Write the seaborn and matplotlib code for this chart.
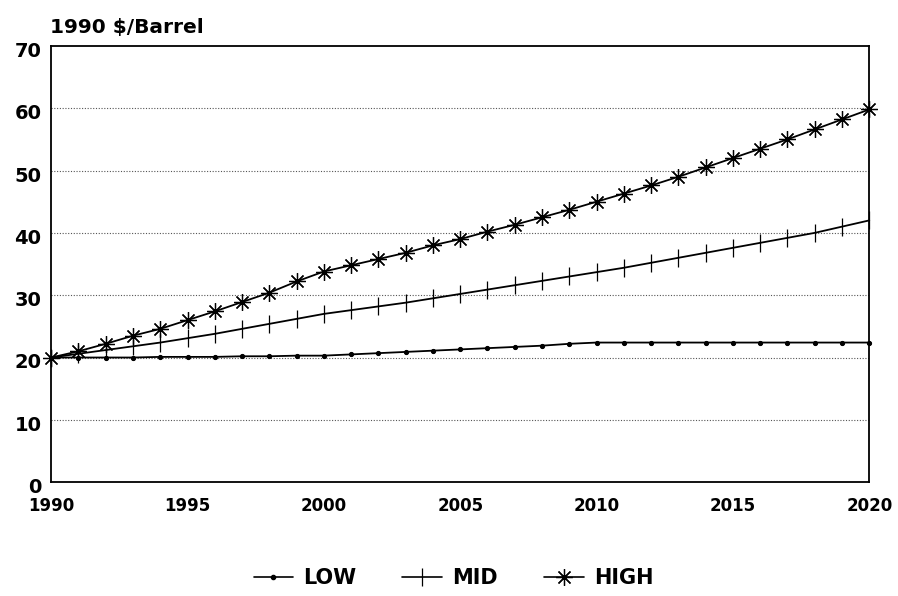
import numpy as np
import pandas as pd
import matplotlib
matplotlib.use("Agg")
import matplotlib.pyplot as plt
import matplotlib.transforms as mtransforms
import seaborn as sns
from matplotlib.lines import Line2D

years = list(range(1990, 2021))
low = [20.0, 20.0, 20.0, 20.0, 20.1, 20.1, 20.1, 20.2, 20.2, 20.3, 20.3,
       20.5, 20.7, 20.9, 21.1, 21.3, 21.5, 21.7, 21.9, 22.2, 22.4,
       22.4, 22.4, 22.4, 22.4, 22.4, 22.4, 22.4, 22.4, 22.4, 22.4]
mid = [20.0, 20.6, 21.2, 21.8, 22.4, 23.1, 23.8, 24.6, 25.4, 26.2, 27.0,
       27.6, 28.2, 28.8, 29.5, 30.2, 30.9, 31.6, 32.3, 33.0, 33.7,
       34.4, 35.2, 36.0, 36.8, 37.6, 38.4, 39.2, 40.0, 41.0, 42.0]
high = [20.0, 21.0, 22.2, 23.5, 24.6, 26.0, 27.4, 28.9, 30.4, 32.2, 33.8,
        34.8, 35.8, 36.8, 38.0, 39.0, 40.2, 41.3, 42.5, 43.7, 45.0,
        46.3, 47.6, 49.0, 50.5, 52.0, 53.5, 55.0, 56.6, 58.2, 59.8]
scenarios = ["LOW", "MID", "HIGH"]

df = pd.DataFrame({"Year": years * 3,
                   "Price": low + mid + high,
                   "Scenario": [s for s in scenarios for _ in years]})

sns.set_style("white")
plt.rcParams['font.family'] = ['DejaVu Sans']
plt.rcParams['font.weight'] = 'bold'
plt.rcParams['text.color'] = 'black'
plt.rcParams['xtick.color'] = 'black'
plt.rcParams['ytick.color'] = 'black'
plt.rcParams['xtick.labelcolor'] = 'black'
plt.rcParams['ytick.labelcolor'] = 'black'

fig = plt.figure(figsize=(8.98, 5.96), dpi=100)
ax = fig.add_axes([0.057, 0.191, 0.911, 0.732])

style = {"LOW": dict(marker=".", markersize=6),
         "MID": dict(marker="|", markersize=13, markeredgewidth=0.9),
         "HIGH": dict(marker=(8, 2, 0), markersize=12, markeredgewidth=0.9)}

for s in scenarios:
    sns.lineplot(data=df[df["Scenario"] == s], x="Year", y="Price", ax=ax,
                 color="black", linewidth=1.3, clip_on=False,
                 markeredgecolor="black", **style[s])

ax.set_xlim(1990, 2020)
ax.set_ylim(0, 70)
ax.set_xticks(range(1990, 2021, 5))
ax.set_xticks(range(1990, 2021), minor=True)
ax.set_yticks(range(0, 71, 10))
ax.tick_params(axis='x', which='both', direction='in', length=8, width=1,
               color='black', labelcolor='black', labelsize=12, pad=11)
ax.tick_params(axis='y', which='major', direction='in', length=8, width=1.5,
               color='black', labelcolor='black', labelsize=14, pad=7)
shift = mtransforms.ScaledTranslation(0, -2.5 / 72, fig.dpi_scale_trans)
for lab in ax.get_yticklabels():
    lab.set_fontweight('bold')
    lab.set_transform(lab.get_transform() + shift)
for lab in ax.get_xticklabels():
    lab.set_fontweight('bold')

for v in range(10, 70, 10):
    ax.axhline(v, color='#555555', linestyle=(0, (1, 1.5)), linewidth=0.8,
               zorder=0)

for sp in ax.spines.values():
    sp.set_color('black')
    sp.set_linewidth(1.3)

ax.set_xlabel("")
ax.set_ylabel("")
fig.text(0.056, 0.945, "1990 $/Barrel", fontsize=14.5, fontweight='bold',
         color='black', ha='left', va='baseline')

handles = [Line2D([], [], color='black', linewidth=1.2, **style[s])
           for s in scenarios]
fig.legend(handles, scenarios, loc='center', bbox_to_anchor=(0.505, 0.03),
           ncol=3, frameon=False, handlelength=1.9, handletextpad=0.5,
           columnspacing=2.2, labelcolor='black',
           prop={'size': 15, 'weight': 'bold'})

fig.savefig("out.png", dpi=100)
